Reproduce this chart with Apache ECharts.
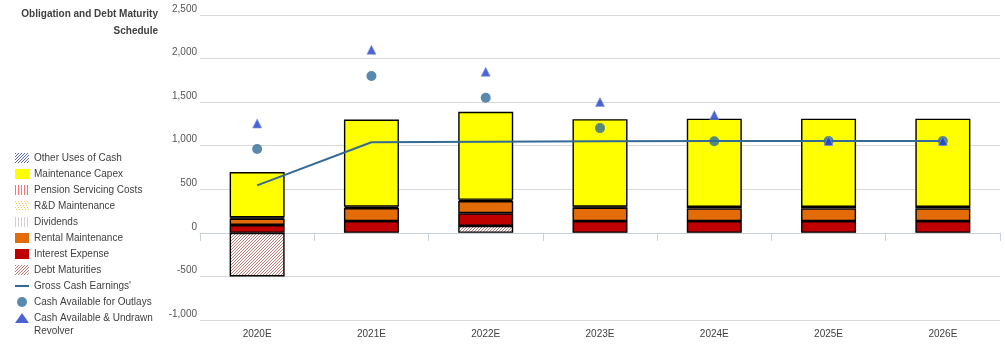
<!DOCTYPE html>
<html>
<head>
<meta charset="utf-8">
<script src="https://cdn.jsdelivr.net/npm/echarts@6/dist/echarts.min.js"></script>
<style>
html,body{margin:0;padding:0;background:#fff;}
#chart{width:1005px;height:355px;}
</style>
</head>
<body>
<div id="chart"></div>
<script>
// ---- data ----
var categories = ['2020E','2021E','2022E','2023E','2024E','2025E','2026E'];
var debtMaturities   = [-500, 0, 80, 0, 0, 0, 0];
var interestExpense  = [90, 135, 145, 135, 135, 135, 135];
var rentalMaint      = [75, 150, 140, 155, 145, 145, 145];
var dividends        = [0, 15, 0, 0, 18, 18, 18];
var rdMaint          = [12, 0, 14, 10, 0, 0, 0];
var pensionCosts     = [0, 0, 0, 0, 0, 0, 0];
var maintCapex       = [520, 1000, 1011, 1005, 1012, 1012, 1012];
var otherUses        = [0, 0, 0, 0, 0, 0, 0];
var grossCash        = [545, 1040, 1045, 1050, 1055, 1055, 1055];
var cashAvail        = [962, 1800, 1550, 1202, 1052, 1055, 1055];
var cashAndRevolver  = [1255, 2100, 1848, 1503, 1352, 1055, 1055];
var yTicks = {min: -1000, max: 2500, interval: 500};

// pixel patterns
function pixPattern(size, color, test) {
  var c = document.createElement('canvas');
  c.width = size; c.height = size;
  var ctx = c.getContext('2d');
  ctx.fillStyle = '#ffffff'; ctx.fillRect(0, 0, size, size);
  ctx.fillStyle = color;
  for (var y = 0; y < size; y++) for (var x = 0; x < size; x++) if (test(x, y)) ctx.fillRect(x, y, 1, 1);
  return {image: c, repeat: 'repeat'};
}
var patDebt    = pixPattern(6, '#c07a76', function (x, y) { return (x + y) % 3 === 0; });
var patOther   = pixPattern(6, '#5a66b8', function (x, y) { return (x + y) % 3 === 0; });
var patPension = pixPattern(6, '#ff7070', function (x, y) { return x % 3 === 0; });
var patRD      = pixPattern(6, '#f5d050', function (x, y) { return (x + y) % 3 === 0 && y % 2 === 0; });
var patDiv     = pixPattern(6, '#d4d0d0', function (x, y) { return x % 3 === 0; });

function nz(arr) { return arr.map(function (v) { return v === 0 ? '-' : v; }); }
function bar(name, data, color) {
  return {
    name: name, type: 'bar', stack: 'total', barWidth: 55, data: nz(data),
    itemStyle: {color: color, borderColor: '#000', borderWidth: 1.4},
    emphasis: {disabled: true}
  };
}

var chart = echarts.init(document.getElementById('chart'));
var font = 'Liberation Sans, Arial, sans-serif';
chart.setOption({
  animation: false,
  textStyle: {fontFamily: font},
  grid: {left: 200, right: 5, top: 15, bottom: 35, containLabel: false},
  graphic: [{
    type: 'text', x: 158, y: 6,
    style: {text: 'Obligation and Debt Maturity\nSchedule', align: 'right', font: 'bold 10px ' + font, fill: '#404040', lineHeight: 17}
  }, {
    type: 'text', x: 34, y: 326,
    style: {text: 'Revolver', font: '10px ' + font, fill: '#404040'}
  }],
  legend: {
    orient: 'vertical', left: 15, top: 153, height: 200, padding: 0,
    itemWidth: 14, itemHeight: 10, itemGap: 6,
    itemStyle: {borderWidth: 0},
    textStyle: {fontSize: 10, color: '#404040', fontFamily: font, lineHeight: 10},
    formatter: function (n) { return n === 'Cash Available & Undrawn Revolver' ? 'Cash Available & Undrawn' : n; },
    data: [
      {name: 'Other Uses of Cash', icon: 'rect'},
      {name: 'Maintenance Capex', icon: 'rect'},
      {name: 'Pension Servicing Costs', icon: 'rect'},
      {name: 'R&D Maintenance', icon: 'rect'},
      {name: 'Dividends', icon: 'rect'},
      {name: 'Rental Maintenance', icon: 'rect'},
      {name: 'Interest Expense', icon: 'rect'},
      {name: 'Debt Maturities', icon: 'rect'},
      {name: "Gross Cash Earnings'", icon: 'path://M0,0 H20 V3 H0 Z'},
      {name: 'Cash Available for Outlays', icon: 'circle'},
      {name: 'Cash Available & Undrawn Revolver', icon: 'triangle'}
    ]
  },
  xAxis: {
    type: 'category', data: categories,
    axisLine: {lineStyle: {color: '#c8d0d8'}},
    axisTick: {show: true, lineStyle: {color: '#c8d0d8'}, length: 8},
    axisLabel: {fontSize: 10, color: '#404040', margin: 9}
  },
  yAxis: {
    type: 'value', min: yTicks.min, max: yTicks.max, interval: yTicks.interval,
    axisLine: {show: false}, axisTick: {show: false},
    splitLine: {lineStyle: {color: '#d9d9d9', width: 1}},
    axisLabel: {fontSize: 10, color: '#555', margin: 3, verticalAlign: 'bottom', padding: [0, 0, 1, 0],
      formatter: function (v) { return v.toLocaleString('en-US'); }}
  },
  series: [
    bar('Debt Maturities', debtMaturities, patDebt),
    bar('Interest Expense', interestExpense, '#c00000'),
    bar('Rental Maintenance', rentalMaint, '#e36c09'),
    bar('Dividends', dividends, patDiv),
    bar('R&D Maintenance', rdMaint, patRD),
    bar('Pension Servicing Costs', pensionCosts, patPension),
    bar('Maintenance Capex', maintCapex, '#ffff00'),
    bar('Other Uses of Cash', otherUses, patOther),
    {name: "Gross Cash Earnings'", type: 'line', data: grossCash, symbol: 'none', z: 5,
      lineStyle: {color: '#356a96', width: 2}, itemStyle: {color: '#356a96'}},
    {name: 'Cash Available for Outlays', type: 'scatter', data: cashAvail, symbol: 'circle', symbolSize: 10, z: 6,
      itemStyle: {color: '#2f6c99'}},
    {name: 'Cash Available & Undrawn Revolver', type: 'scatter', data: cashAndRevolver, symbol: 'triangle', symbolSize: [9, 9], z: 7,
      itemStyle: {color: '#1f3cc8', borderColor: '#7f9be8', borderWidth: 0.8}}
  ]
});
</script>
</body>
</html>
